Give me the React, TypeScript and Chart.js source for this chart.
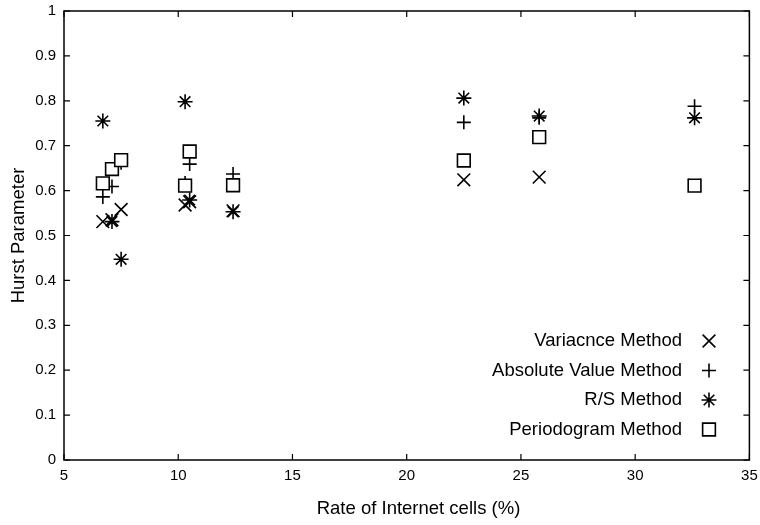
import React, { useEffect, useRef } from "react";
import { Chart, registerables } from "chart.js";
import { drawPoint } from "chart.js/helpers";

Chart.register(...registerables);

// ---- data ----
const xValues = [6.7, 7.1, 7.5, 10.3, 10.5, 12.4, 22.5, 25.8, 32.6];
const varianceValues = [0.531, 0.535, 0.558, 0.568, 0.575, 0.555, 0.624, 0.63, 0.612];
const absoluteValues = [0.586, 0.609, 0.662, 0.617, 0.659, 0.637, 0.752, 0.762, 0.788];
const rsValues = [0.755, 0.531, 0.447, 0.798, 0.579, 0.553, 0.806, 0.766, 0.762];
const periodogramValues = [0.616, 0.648, 0.668, 0.611, 0.687, 0.612, 0.667, 0.719, 0.611];

const seriesLabels = [
  "Variacnce Method",
  "Absolute Value Method",
  "R/S Method",
  "Periodogram Method",
];

const xTicks = [5, 10, 15, 20, 25, 30, 35];
const xTickLabels = ["5", "10", "15", "20", "25", "30", "35"];
const yTicks = [0, 0.1, 0.2, 0.3, 0.4, 0.5, 0.6, 0.7, 0.8, 0.9, 1];
const yTickLabels = ["0", "0.1", "0.2", "0.3", "0.4", "0.5", "0.6", "0.7", "0.8", "0.9", "1"];

const xTitle = "Rate of Internet cells (%)";
const yTitle = "Hurst Parameter";

const FONT = "'Liberation Sans', Arial, sans-serif";

const toPoints = (ys: number[]) => xValues.map((x, i) => ({ x, y: ys[i] }));

const frameAndTicks = {
  id: "frameAndTicks",
  afterDatasetsDraw(chart: any) {
    const { ctx, chartArea } = chart;
    const { left, right, top, bottom } = chartArea;
    const xs = chart.scales.x;
    const ys = chart.scales.y;
    const tl = 6;
    ctx.save();
    ctx.strokeStyle = "#000";
    ctx.lineWidth = 1.2;
    ctx.beginPath();
    xTicks.forEach((v) => {
      const p = xs.getPixelForValue(v);
      ctx.moveTo(p, bottom);
      ctx.lineTo(p, bottom - tl);
      ctx.moveTo(p, top);
      ctx.lineTo(p, top + tl);
    });
    yTicks.forEach((v) => {
      const p = ys.getPixelForValue(v);
      ctx.moveTo(left, p);
      ctx.lineTo(left + tl, p);
      ctx.moveTo(right, p);
      ctx.lineTo(right - tl, p);
    });
    ctx.stroke();
    ctx.lineWidth = 1.5;
    ctx.strokeRect(left, top, right - left, bottom - top);

    // x axis title (offset to the right as in the reference)
    ctx.font = `18.5px ${FONT}`;
    ctx.fillStyle = "#000";
    ctx.textAlign = "center";
    ctx.textBaseline = "middle";
    ctx.fillText(xTitle, 418.5, 509);
    ctx.restore();
  },
};

const insideLegend = {
  id: "insideLegend",
  afterDatasetsDraw(chart: any) {
    const { ctx } = chart;
    const textRight = 682;
    const markerX = 709;
    const firstY = 341;
    const step = 29.5;
    ctx.save();
    ctx.font = `18.5px ${FONT}`;
    ctx.textAlign = "right";
    ctx.textBaseline = "middle";
    chart.data.datasets.forEach((ds: any) => {
      const idx = seriesLabels.indexOf(ds.label);
      const y = firstY + idx * step;
      ctx.fillStyle = "#000";
      ctx.fillText(ds.label, textRight, y);
      ctx.strokeStyle = "#000";
      ctx.fillStyle = ds.pointBackgroundColor;
      ctx.lineWidth = ds.pointBorderWidth;
      drawPoint(ctx, { pointStyle: ds.pointStyle, radius: ds.pointRadius, borderWidth: ds.pointBorderWidth, rotation: 0 }, markerX, y);
    });
    ctx.restore();
  },
};

export default function App() {
  const ref = useRef<HTMLCanvasElement | null>(null);

  useEffect(() => {
    if (!ref.current) return;
    const common = {
      showLine: false,
      borderColor: "#000",
      pointBorderColor: "#000",
      pointBorderWidth: 1.6,
      pointHoverRadius: 0,
    };
    const chart = new Chart(ref.current, {
      type: "scatter",
      data: {
        datasets: [
          {
            ...common,
            label: seriesLabels[3],
            data: toPoints(periodogramValues),
            pointStyle: "rect",
            pointRadius: 9,
            pointBackgroundColor: "#fff",
            backgroundColor: "#fff",
            order: 0,
          },
          {
            ...common,
            label: seriesLabels[2],
            data: toPoints(rsValues),
            pointStyle: "star",
            pointRadius: 7.5,
            pointBackgroundColor: "rgba(0,0,0,0)",
            backgroundColor: "rgba(0,0,0,0)",
            order: 1,
          },
          {
            ...common,
            label: seriesLabels[1],
            data: toPoints(absoluteValues),
            pointStyle: "cross",
            pointRadius: 7,
            pointBackgroundColor: "rgba(0,0,0,0)",
            backgroundColor: "rgba(0,0,0,0)",
            order: 2,
          },
          {
            ...common,
            label: seriesLabels[0],
            data: toPoints(varianceValues),
            pointStyle: "crossRot",
            pointRadius: 9,
            pointBackgroundColor: "rgba(0,0,0,0)",
            backgroundColor: "rgba(0,0,0,0)",
            order: 3,
          },
        ],
      },
      options: {
        animation: false,
        responsive: false,
        devicePixelRatio: 1,
        events: [],
        layout: { padding: { top: 11, right: 8, left: 0, bottom: 0 } },
        plugins: {
          legend: { display: false },
          tooltip: { enabled: false },
        },
        scales: {
          x: {
            type: "linear",
            min: 5,
            max: 35,
            afterBuildTicks: (scale: any) => {
              scale.ticks = xTicks.map((v) => ({ value: v }));
            },
            afterFit: (scale: any) => {
              scale.height = 65;
              scale.paddingLeft = 0;
              scale.paddingRight = 0;
            },
            ticks: {
              callback: (v: any) => xTickLabels[xTicks.indexOf(Number(v))] ?? "",
              color: "#000",
              font: { family: FONT, size: 15 },
              padding: 7,
              maxRotation: 0,
              autoSkip: false,
            },
            grid: { display: false, drawTicks: false },
            border: { display: false },
            title: { display: false },
          },
          y: {
            type: "linear",
            min: 0,
            max: 1,
            afterBuildTicks: (scale: any) => {
              scale.ticks = yTicks.map((v) => ({ value: v }));
            },
            afterFit: (scale: any) => {
              scale.width = 64;
              scale.paddingTop = 0;
              scale.paddingBottom = 0;
            },
            ticks: {
              callback: (v: any) => {
                const i = yTicks.findIndex((t) => Math.abs(t - Number(v)) < 1e-9);
                return i >= 0 ? yTickLabels[i] : "";
              },
              color: "#000",
              font: { family: FONT, size: 15 },
              padding: 8,
              autoSkip: false,
            },
            grid: { display: false, drawTicks: false },
            border: { display: false },
            title: {
              display: true,
              text: yTitle,
              color: "#000",
              font: { family: FONT, size: 18.5 },
              padding: 8,
            },
          },
        },
      },
      plugins: [frameAndTicks, insideLegend],
    } as any);
    return () => chart.destroy();
  }, []);

  return (
    <div style={{ position: "absolute", left: 0, top: 0, width: 760, height: 525, background: "#fff" }}>
      <canvas ref={ref} width={760} height={525} style={{ width: 760, height: 525 }} />
    </div>
  );
}
